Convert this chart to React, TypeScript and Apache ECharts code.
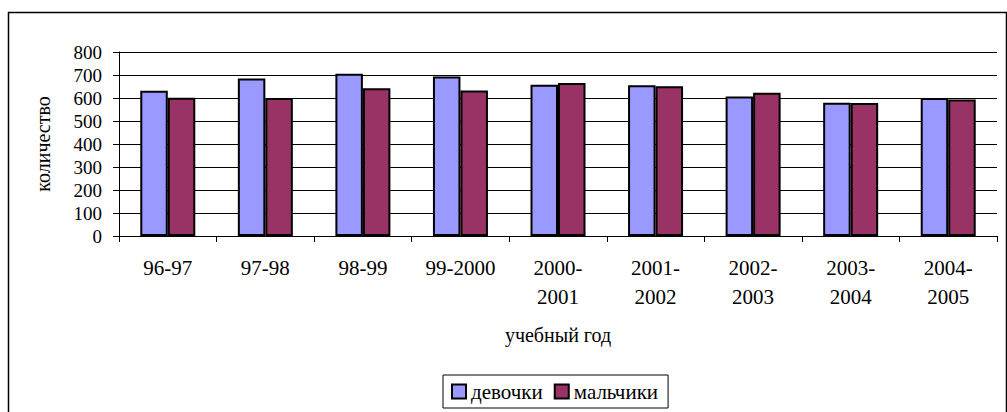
import React, { useEffect, useRef } from "react";
import * as echarts from "echarts";

const categories = [
  "96-97",
  "97-98",
  "98-99",
  "99-2000",
  "2000-\n2001",
  "2001-\n2002",
  "2002-\n2003",
  "2003-\n2004",
  "2004-\n2005",
];
const girls = [631, 685, 705, 694, 658, 655, 607, 579, 600];
const boys = [601, 600, 642, 633, 665, 651, 623, 578, 594];
const yTicks = { min: 0, max: 800, interval: 100 };

const FONT = "'Liberation Serif', 'DejaVu Serif', serif";

export default function App() {
  const ref = useRef<HTMLDivElement>(null);
  useEffect(() => {
    if (!ref.current) return;
    const chart = echarts.init(ref.current, null, { renderer: "svg" });
    chart.setOption({
      animation: false,
      backgroundColor: "#fff",
      textStyle: { fontFamily: FONT, color: "#000" },
      graphic: [
        {
          type: "rect",
          shape: { x: 8.5, y: 12.5, width: 998, height: 430 },
          style: { fill: "none", stroke: "#000", lineWidth: 1.5 },
          silent: true,
          z: -1,
        },
      ],
      grid: { left: 119, right: 10, top: 52, bottom: 176, containLabel: false },
      legend: {
        left: 443,
        top: 375,
        padding: [6, 10, 6, 8],
        borderColor: "#000",
        borderWidth: 1,
        backgroundColor: "#fff",
        itemGap: 11,
        itemWidth: 14,
        itemHeight: 14,
        icon: "rect",
        itemStyle: { borderColor: "#000", borderWidth: 2 },
        textStyle: { fontFamily: FONT, fontSize: 21, color: "#000" },
        data: ["девочки", "мальчики"],
      },
      xAxis: {
        type: "category",
        data: categories,
        boundaryGap: true,
        name: "учебный год",
        nameLocation: "middle",
        nameGap: 89,
        nameTextStyle: { fontFamily: FONT, fontSize: 20, color: "#000" },
        axisLine: { lineStyle: { color: "#000", width: 1 } },
        axisTick: { show: true, alignWithLabel: false, length: 6, lineStyle: { color: "#000" } },
        axisLabel: {
          fontFamily: FONT,
          fontSize: 21,
          color: "#000",
          margin: 17,
          lineHeight: 29,
          interval: 0,
          align: "center",
        },
      },
      yAxis: {
        type: "value",
        min: yTicks.min,
        max: yTicks.max,
        interval: yTicks.interval,
        name: "количество",
        nameLocation: "middle",
        nameGap: 66,
        nameTextStyle: { fontFamily: FONT, fontSize: 20, color: "#000" },
        axisLine: { show: true, lineStyle: { color: "#000", width: 1 } },
        axisTick: { show: true, length: 6, lineStyle: { color: "#000" } },
        axisLabel: { fontFamily: FONT, fontSize: 19, color: "#000", margin: 17 },
        splitLine: { show: true, lineStyle: { color: "#000", width: 1 } },
      },
      series: [
        {
          name: "девочки",
          type: "bar",
          data: girls,
          barWidth: 27.5,
          barGap: "0%",
          itemStyle: { color: "#9999FF", borderColor: "#000", borderWidth: 2 },
        },
        {
          name: "мальчики",
          type: "bar",
          data: boys,
          barWidth: 27.5,
          barGap: "0%",
          itemStyle: { color: "#993366", borderColor: "#000", borderWidth: 2 },
        },
      ],
    });
    return () => chart.dispose();
  }, []);
  return (
    <div
      ref={ref}
      style={{ position: "fixed", left: 0, top: 0, width: 1007, height: 412 }}
    />
  );
}
